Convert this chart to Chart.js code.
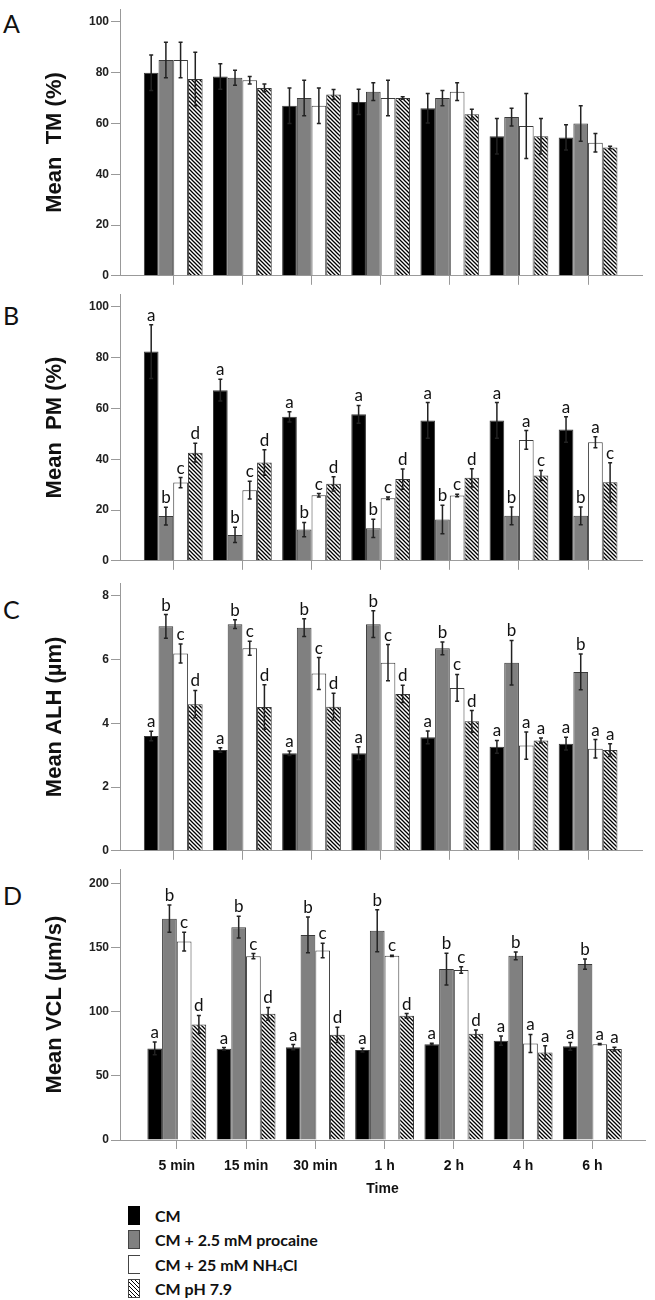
<!DOCTYPE html>
<html>
<head>
<meta charset="utf-8">
<script src="https://cdn.jsdelivr.net/npm/chart.js@4"></script>
<style>
  body { margin: 0; background: #fff; width: 655px; height: 1300px; position: relative; overflow: hidden; }
  canvas { position: absolute; left: 0; }
  .panel { position: absolute; font-family: Lato, "Open Sans", sans-serif; font-size: 25px; color: #111; }
  .legend { position: absolute; left: 128px; top: 1203px; font-family: Lato, "Open Sans", sans-serif; font-weight: bold; font-size: 16px; color: #111; }
  .row { height: 24.5px; display: flex; align-items: center; }
  .sw { display: inline-block; width: 12px; height: 19px; margin-right: 15px; box-sizing: border-box; }
  .sub { font-size: 10px; position: relative; top: 4px; }
</style>
</head>
<body>
<div class="panel" style="left:3px;top:8px">A</div>
<div class="panel" style="left:3px;top:300px">B</div>
<div class="panel" style="left:3px;top:594px">C</div>
<div class="panel" style="left:3px;top:880px">D</div>
<canvas id="chartA" width="655" height="285" style="top:0px"></canvas>
<canvas id="chartB" width="655" height="285" style="top:285px"></canvas>
<canvas id="chartC" width="655" height="290" style="top:570px"></canvas>
<canvas id="chartD" width="655" height="340" style="top:860px"></canvas>
<div class="legend">
  <div class="row"><span class="sw" style="background:#000"></span>CM</div>
  <div class="row"><span class="sw" style="background:#808080;border:1px solid #444"></span>CM + 2.5 mM procaine</div>
  <div class="row"><span class="sw" style="background:#fff;border:1px solid #444;border-right:none"></span>CM + 25 mM NH<span class="sub">4</span>Cl</div>
  <div class="row"><span class="sw" style="border:1px solid #444;background:repeating-linear-gradient(45deg,#fff 0px,#fff 1.6px,#000 1.6px,#000 2.8px)"></span>CM pH 7.9</div>
</div>
<script>
const categories = ['5 min', '15 min', '30 min', '1 h', '2 h', '4 h', '6 h'];
const seriesNames = ['CM', 'CM + 2.5 mM procaine', 'CM + 25 mM NH4Cl', 'CM pH 7.9'];

// A - total motility
const tmCM = [80, 78.5, 67, 68.5, 66, 55, 54.5];
const tmCMErr = [7, 5, 7, 5, 5.8, 7, 5];
const tmProc = [85, 78, 70, 72.5, 70, 62.5, 60];
const tmProcErr = [7, 3, 7, 3.5, 3, 3.5, 7];
const tmNH4 = [85, 77, 67, 70, 72.5, 59, 52.4];
const tmNH4Err = [7, 1.5, 7, 7, 3.5, 12.8, 3.6];
const tmPH = [77.5, 74, 71.4, 70, 63.6, 55, 50.5];
const tmPHErr = [10.5, 1.5, 2, 0.5, 2, 7, 0.5];

// B - progressive motility
const pmCM = [82.4, 67.2, 56.7, 57.7, 55.3, 55.3, 51.7];
const pmCMErr = [10.6, 4.3, 2, 3.5, 7, 7, 5];
const pmProc = [17.6, 10.2, 12.3, 12.8, 16.3, 17.7, 17.7];
const pmProcErr = [3.5, 3, 2.8, 3.6, 5.6, 3.5, 3.5];
const pmNH4 = [30.8, 27.8, 25.8, 24.6, 25.7, 47.6, 46.7];
const pmNH4Err = [2, 3.5, 0.7, 0.5, 0.5, 3.7, 2.2];
const pmPH = [42.6, 38.7, 30.3, 32.2, 32.7, 33.6, 30.9];
const pmPHErr = [3.7, 5, 2.8, 4, 3.6, 2, 7.7];
const pmLetters = [
  ['a', 'a', 'a', 'a', 'a', 'a', 'a'],
  ['b', 'b', 'b', 'b', 'b', 'b', 'b'],
  ['c', 'c', 'c', 'c', 'c', 'a', 'a'],
  ['d', 'd', 'd', 'd', 'd', 'c', 'c']
];

// C - ALH
const alhCM = [3.6, 3.16, 3.06, 3.06, 3.56, 3.26, 3.36];
const alhCMErr = [0.15, 0.07, 0.07, 0.2, 0.2, 0.2, 0.2];
const alhProc = [7.04, 7.11, 7.0, 7.11, 6.35, 5.9, 5.61];
const alhProcErr = [0.37, 0.14, 0.28, 0.42, 0.2, 0.7, 0.56];
const alhNH4 = [6.19, 6.35, 5.56, 5.9, 5.11, 3.3, 3.2];
const alhNH4Err = [0.3, 0.22, 0.5, 0.57, 0.42, 0.43, 0.29];
const alhPH = [4.6, 4.51, 4.52, 4.92, 4.06, 3.46, 3.16];
const alhPHErr = [0.43, 0.7, 0.42, 0.27, 0.34, 0.08, 0.2];

// D - VCL
const vclCM = [71.5, 71.2, 72.5, 70.2, 74.8, 77.5, 73.1];
const vclCMErr = [5, 1, 2, 1.5, 0.7, 3.6, 3];
const vclProc = [172.8, 166.1, 160.1, 163.4, 133.4, 143.8, 137.3];
const vclProcErr = [10.6, 8.5, 14, 16.4, 12.4, 3, 4];
const vclNH4 = [154.9, 143.5, 147.9, 143.8, 132.7, 75.4, 74.8];
const vclNH4Err = [7.3, 2, 5.7, 0.5, 2.6, 7, 0.5];
const vclPH = [90.2, 98.5, 82.1, 96.9, 82.9, 68.4, 71];
const vclPHErr = [7, 5, 6, 1.8, 3, 5.2, 1.5];

// same letters for ALH and VCL
const kinLetters = [
  ['a', 'a', 'a', 'a', 'a', 'a', 'a'],
  ['b', 'b', 'b', 'b', 'b', 'b', 'b'],
  ['c', 'c', 'c', 'c', 'c', 'a', 'a'],
  ['d', 'd', 'd', 'd', 'd', 'a', 'a']
];

// hatched fill for pH 7.9
function hatchPattern() {
  let c = document.createElement('canvas');
  c.width = 4; c.height = 4;
  let g = c.getContext('2d');
  g.fillStyle = '#fff';
  g.fillRect(0, 0, 4, 4);
  g.strokeStyle = '#000';
  g.lineWidth = 1.3;
  g.beginPath();
  g.moveTo(-1, -1); g.lineTo(5, 5);
  g.moveTo(3, -1); g.lineTo(5, 1);
  g.moveTo(-1, 3); g.lineTo(1, 5);
  g.stroke();
  return g.createPattern(c, 'repeat');
}
const fills = ['#000000', '#808080', '#ffffff', hatchPattern()];

// error bars + significance letters
const errorBarPlugin = {
  id: 'errorBars',
  afterDatasetsDraw(chart) {
    let ctx = chart.ctx;
    let yScale = chart.scales.y;
    chart.data.datasets.forEach((ds, di) => {
      let meta = chart.getDatasetMeta(di);
      meta.data.forEach((bar, i) => {
        let v = ds.data[i].y;
        let e = ds.errorBars[i];
        let top = yScale.getPixelForValue(v + e);
        let bot = yScale.getPixelForValue(v - e);
        ctx.save();
        ctx.strokeStyle = '#222';
        ctx.lineWidth = 1.5;
        ctx.beginPath();
        ctx.moveTo(bar.x, top); ctx.lineTo(bar.x, bot);
        ctx.moveTo(bar.x - 2, top); ctx.lineTo(bar.x + 2, top);
        ctx.moveTo(bar.x - 2, bot); ctx.lineTo(bar.x + 2, bot);
        ctx.stroke();
        if (ds.letters) {
          ctx.fillStyle = '#111';
          ctx.font = '17px Lato, "Open Sans", sans-serif';
          ctx.textAlign = 'center';
          ctx.textBaseline = 'alphabetic';
          ctx.fillText(ds.letters[i], bar.x, top - 4);
        }
        ctx.restore();
      });
    });
  }
};

function makePanel(id, values, errors, letters, yMax, step, yTitle, box) {
  let datasets = values.map((vals, s) => ({
    label: seriesNames[s],
    data: vals.map((v, i) => ({ x: i, y: v })),
    backgroundColor: fills[s],
    borderColor: '#3a3a3a',
    borderWidth: 1,
    errorBars: errors[s],
    letters: letters ? letters[s] : null
  }));
  return new Chart(document.getElementById(id).getContext('2d'), {
    type: 'bar',
    data: { datasets: datasets },
    options: {
      responsive: false,
      maintainAspectRatio: false,
      animation: false,
      datasets: { bar: { categoryPercentage: 0.85, barPercentage: 1.0 } },
      layout: { padding: { top: box.padTop, right: box.padRight, left: 0, bottom: 0 } },
      plugins: { legend: { display: false }, tooltip: { enabled: false } },
      scales: {
        x: {
          type: 'linear',
          offset: false,
          min: box.xMin,
          max: box.xMax,
          afterBuildTicks: scale => { scale.ticks = categories.map((c, i) => ({ value: i })); },
          afterFit: scale => { scale.height = box.xHeight; },
          ticks: {
            display: box.showX,
            autoSkip: false,
            maxRotation: 0,
            padding: 9,
            color: '#111',
            font: { family: '"Liberation Sans", Arial, sans-serif', weight: 'bold', size: 14 },
            callback: v => categories[v]
          },
          grid: { offset: false, drawOnChartArea: false, tickLength: 9, color: '#999' },
          border: { color: '#999', width: 1 },
          title: {
            display: box.showX,
            text: 'Time',
            color: '#111',
            padding: { top: 4, bottom: 2 },
            font: { family: '"Liberation Sans", Arial, sans-serif', weight: 'bold', size: 14 }
          }
        },
        y: {
          min: 0,
          max: yMax,
          afterFit: scale => { scale.width = 120; },
          ticks: {
            stepSize: step,
            includeBounds: false,
            padding: 2,
            color: '#222',
            font: { family: '"Liberation Sans", Arial, sans-serif', weight: 'bold', size: 12 }
          },
          grid: { drawOnChartArea: false, tickLength: 9, color: '#999' },
          border: { color: '#999', width: 1 },
          title: {
            display: true,
            text: yTitle,
            color: '#111',
            padding: { top: 42, bottom: 0 },
            font: { family: '"Liberation Sans", Arial, sans-serif', weight: 'bold', size: 22 }
          }
        }
      }
    },
    plugins: [errorBarPlugin]
  });
}

const boxA = { padTop: 5, padRight: 13, xHeight: 9, xMin: -0.77, xMax: 6.78, showX: false };
const boxB = { padTop: 7, padRight: 13, xHeight: 8, xMin: -0.77, xMax: 6.78, showX: false };
const boxC = { padTop: 13, padRight: 13, xHeight: 7, xMin: -0.77, xMax: 6.78, showX: false };
const boxD = { padTop: 8, padRight: 10, xHeight: 60, xMin: -0.82, xMax: 6.76, showX: true };

makePanel('chartA', [tmCM, tmProc, tmNH4, tmPH], [tmCMErr, tmProcErr, tmNH4Err, tmPHErr], null,
  105, 20, 'Mean  TM (%)', boxA);
makePanel('chartB', [pmCM, pmProc, pmNH4, pmPH], [pmCMErr, pmProcErr, pmNH4Err, pmPHErr], pmLetters,
  105, 20, 'Mean  PM (%)', boxB);
makePanel('chartC', [alhCM, alhProc, alhNH4, alhPH], [alhCMErr, alhProcErr, alhNH4Err, alhPHErr], kinLetters,
  8.4, 2, 'Mean ALH (µm)', boxC);
makePanel('chartD', [vclCM, vclProc, vclNH4, vclPH], [vclCMErr, vclProcErr, vclNH4Err, vclPHErr], kinLetters,
  211.4, 50, 'Mean VCL (µm/s)', boxD);
</script>
</body>
</html>
